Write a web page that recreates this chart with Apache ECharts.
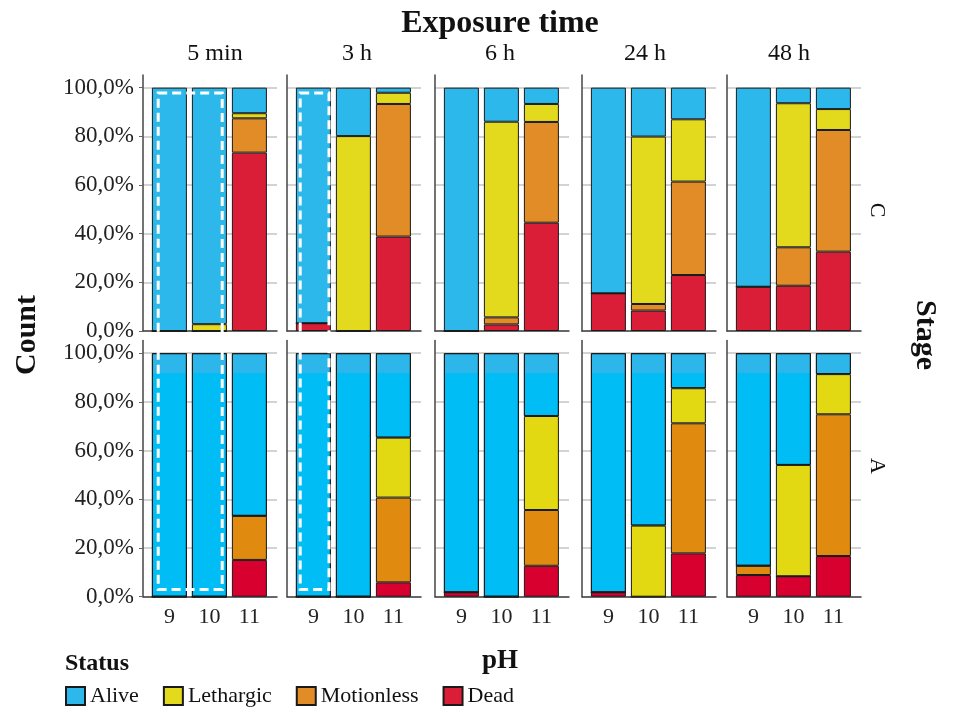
<!DOCTYPE html>
<html><head><meta charset="utf-8">
<script src="https://cdn.jsdelivr.net/npm/echarts@6/dist/echarts.min.js"></script>
<style>html,body{margin:0;padding:0;background:#fff}#c{width:954px;height:710px}</style>
</head><body><div id="c"></div>
<script>
// ---- data ----
const times = ['5 min', '3 h', '6 h', '24 h', '48 h'];
const stages = ['C', 'A'];
const pH = [9, 10, 11];
const statuses = ['Alive', 'Lethargic', 'Motionless', 'Dead'];
const yTicks = [0, 20, 40, 60, 80, 100];
// percent per exposure time, values for pH 9, 10, 11
const deadC       = [[0, 0, 73.3], [3.2, 0, 38.8], [0, 2.7, 44.5], [15.5, 8.4, 23.0], [18.2, 18.6, 32.6]];
const motionlessC = [[0, 0, 14.1], [0, 0, 54.5], [0, 2.9, 41.4], [0, 2.7, 38.4], [0, 15.8, 50.0]];
const lethargicC  = [[0, 2.8, 2.1], [0, 80.1, 4.6], [0, 80.4, 7.4], [0, 68.8, 25.6], [0, 59.2, 8.6]];
const aliveC      = [[100, 97.2, 10.5], [96.8, 19.9, 2.1], [100, 14.0, 6.7], [84.5, 20.1, 13.0], [81.8, 6.4, 8.8]];
const deadA       = [[0, 0, 15.1], [0, 0, 5.9], [1.8, 0, 12.7], [1.8, 0, 17.8], [8.9, 8.4, 16.7]];
const motionlessA = [[0, 0, 18.1], [0, 0, 34.8], [0, 0, 22.9], [0, 0, 53.4], [3.8, 0, 58.2]];
const lethargicA  = [[0, 0, 0], [0, 0, 24.6], [0, 0, 38.6], [0, 29.2, 14.4], [0, 45.7, 16.5]];
const aliveA      = [[100, 100, 66.8], [100, 100, 34.7], [98.2, 100, 25.8], [98.2, 70.8, 14.4], [87.3, 45.9, 8.6]];
// highlighted (dashed) groups: exposure column, pH range covered
const dashCols = [0, 1];
const dashRange = [[8.72, 10.32], [8.67, 9.39]];
const dashY = [97.8, 3.0];

// ---- style ----
const FONT = '"Liberation Serif", "Times New Roman", serif';
const colTop = { Alive: '#2cb8eb', Lethargic: '#e3d91d', Motionless: '#e18c26', Dead: '#da1e37' };
const colBot = { Alive: '#00bef5', Lethargic: '#e3d912', Motionless: '#e08b10', Dead: '#d7002e' };
const lefts = [143, 287, 435, 582, 727];
const headerX = [215, 357, 500, 645, 789];
const panelW = 134;
const rowTop = [75, 340.5];
const rowH = [256, 256.2];
const XMIN = 8.34, XMAX = 11.69, YMAX = 105.2;

const dataSets = {
  C: { Dead: deadC, Motionless: motionlessC, Lethargic: lethargicC, Alive: aliveC },
  A: { Dead: deadA, Motionless: motionlessA, Lethargic: lethargicA, Alive: aliveA }
};
const stackOrder = ['Dead', 'Motionless', 'Lethargic', 'Alive'];

const grids = [], xAxes = [], yAxes = [], series = [];
stages.forEach((st, r) => {
  times.forEach((t, c) => {
    const gi = r * 5 + c;
    grids.push({ left: lefts[c], top: rowTop[r], width: panelW, height: rowH[r] });
    xAxes.push({
      type: 'value', gridIndex: gi, min: XMIN, max: XMAX,
      axisLine: { show: true, onZero: false, lineStyle: { color: '#444', width: 1.5 } },
      axisTick: { show: false },
      splitLine: { show: false },
      axisLabel: {
        show: r === 1, customValues: pH, margin: 10,
        fontFamily: FONT, fontSize: 22, color: '#222'
      }
    });
    yAxes.push({
      type: 'value', gridIndex: gi, min: 0, max: YMAX, interval: 20,
      axisLine: { show: true, lineStyle: { color: '#444', width: 1.5 } },
      axisTick: { show: c === 0, customValues: yTicks, length: 4, lineStyle: { color: '#666' } },
      splitLine: { show: true, lineStyle: { color: '#c4c4c4', width: 1.5 } },
      axisLabel: {
        show: c === 0, customValues: yTicks, margin: 9,
        fontFamily: FONT, fontSize: 23, color: '#222',
        formatter: v => v.toFixed(1).replace('.', ',') + '%'
      }
    });
    stackOrder.forEach(name => {
      const arr = dataSets[st][name][c];
      series.push({
        type: 'bar', name, xAxisIndex: gi, yAxisIndex: gi, stack: 'g' + gi,
        barWidth: 35,
        // [percent, pH] so the percent dimension is the stacked one
        encode: { x: 1, y: 0 },
        data: pH.map((p, i) => [arr[i], p]),
        itemStyle: { color: (r === 0 ? colTop : colBot)[name], borderColor: '#1a1a1a', borderWidth: 1 },
        emphasis: { disabled: true },
        silent: true
      });
    });
  });
});

const texts = [
  { text: 'Exposure time', x: 500, y: 24, font: 'bold 32px ' + FONT },
  { text: 'Count', x: 27, y: 335, font: 'bold 30px ' + FONT, rot: Math.PI / 2 },
  { text: 'Stage', x: 925, y: 335, font: 'bold 30px ' + FONT, rot: -Math.PI / 2 },
  { text: 'C', x: 877, y: 210, font: '22px ' + FONT, rot: -Math.PI / 2 },
  { text: 'A', x: 877, y: 466, font: '22px ' + FONT, rot: -Math.PI / 2 },
  { text: 'pH', x: 500, y: 661, font: 'bold 27px ' + FONT },
  { text: 'Status', x: 97, y: 664, font: 'bold 24px ' + FONT }
];
times.forEach((t, c) => texts.push({ text: t, x: headerX[c], y: 54, font: '24px ' + FONT }));

const graphic = texts.map(o => ({
  type: 'text', x: o.x, y: o.y, rotation: o.rot || 0, silent: true,
  style: { text: o.text, font: o.font, fill: '#111', align: 'center', verticalAlign: 'middle' }
}));

const chart = echarts.init(document.getElementById('c'), null, { renderer: 'canvas' });
const option = {
  animation: false,
  backgroundColor: '#fff',
  grid: grids, xAxis: xAxes, yAxis: yAxes, series,
  legend: {
    data: statuses, left: 65, top: 685, padding: 0, itemWidth: 19, itemHeight: 18, itemGap: 24,
    icon: 'rect', selectedMode: false,
    textStyle: { fontFamily: FONT, fontSize: 22, color: '#111' }
  },
  graphic
};
chart.setOption(option);

// light band at the top of bottom-row Alive bars
const yTopPx = chart.convertToPixel({ gridIndex: 5 }, [9, 100])[1];
const yBandPx = chart.convertToPixel({ gridIndex: 5 }, [9, 91.9])[1];
const grad = new echarts.graphic.LinearGradient(0, yTopPx, 0, yTopPx + 2 * (yBandPx - yTopPx), [
  { offset: 0, color: '#2db6ea' }, { offset: 0.5, color: '#2db6ea' },
  { offset: 0.5, color: colBot.Alive }, { offset: 1, color: colBot.Alive }
], true);
series.forEach(s => {
  if (s.name === 'Alive' && s.xAxisIndex >= 5) s.itemStyle = Object.assign({}, s.itemStyle, { color: grad });
});

// dashed boxes
dashCols.forEach((c, k) => {
  const p1 = chart.convertToPixel({ gridIndex: c }, [dashRange[k][0], dashY[0]]);
  const p2 = chart.convertToPixel({ gridIndex: c + 5 }, [dashRange[k][1], dashY[1]]);
  graphic.push({
    type: 'rect', silent: true, z: 100,
    shape: { x: p1[0], y: p1[1], width: p2[0] - p1[0], height: p2[1] - p1[1] },
    style: { fill: 'none', stroke: '#fff', lineWidth: 3, lineDash: [9, 5] }
  });
});
chart.setOption({ series, graphic });
</script>
</body></html>
